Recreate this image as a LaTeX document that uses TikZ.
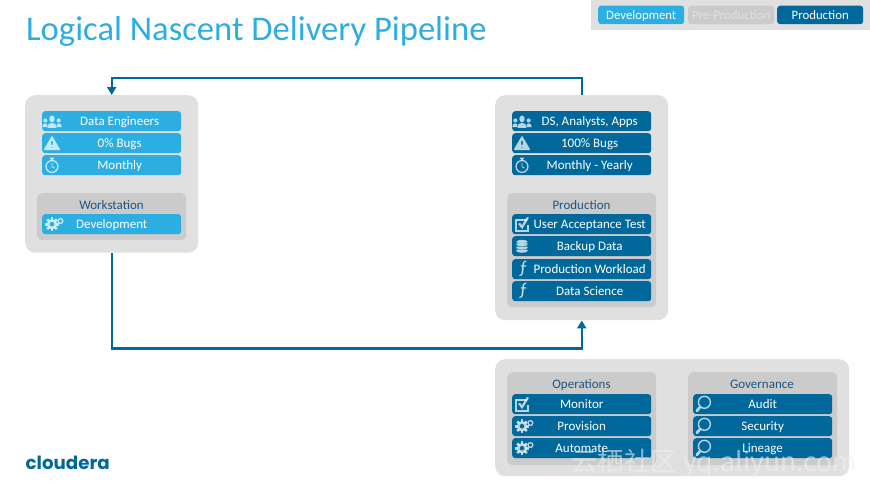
\documentclass[tikz,border=0pt]{standalone}
\usepackage{fontspec}
\setmainfont{Carlito}
\newfontfamily\logofont{Poppins}
\newfontfamily\cjkfont{Noto Sans CJK SC}
\usetikzlibrary{arrows.meta}
\definecolor{devblue}{HTML}{2CAEE2}
\definecolor{prodblue}{HTML}{00689A}
\definecolor{cardgrey}{HTML}{E0E0E0}
\definecolor{panelgrey}{HTML}{CBCBCB}
\definecolor{headblue}{HTML}{1F5580}
\definecolor{markgrey}{HTML}{EFEFEF}
\tikzset{
  card/.style={anchor=north west, fill=cardgrey, rounded corners=10pt, inner sep=0pt},
  panel/.style={anchor=north west, fill=panelgrey, rounded corners=5pt, inner sep=0pt, minimum width=149pt},
  panelhead/.style={text=headblue, text height=9pt, text depth=.4pt, font=\fontsize{13}{15}\selectfont, inner sep=0pt},
  bar/.style={anchor=north west, rounded corners=3pt, inner sep=0pt, minimum width=139pt, minimum height=20pt, text height=9pt, text depth=.4pt, text=white, font=\fontsize{13}{15}\selectfont},
  devbar/.style={bar, fill=devblue},
  prodbar/.style={bar, fill=prodblue},
  offset/.style={execute at begin node=\hspace{16pt}},
  chip/.style={anchor=north west, rounded corners=3pt, inner sep=0pt, minimum width=86pt, minimum height=18.5pt, text height=9pt, text depth=.4pt, text=white, font=\fontsize{12.8}{15}\selectfont},
  flow/.style={draw=prodblue, line width=2.2pt, -{Triangle[length=8pt,width=9pt]}},
  ico/.style={fill=white, fill opacity=.72, draw=none},
  icoline/.style={draw=white, draw opacity=.72, fill=none},
  people/.pic={
    \begin{scope}[scale=.74]
    \fill[ico] (-9,-1) circle (2.8pt) (9,-1) circle (2.8pt);
    \fill[ico] (-13,8) .. controls (-13,3) and (-10,3) .. (-9,3) .. controls (-7,3) and (-6,4) .. (-6,8) -- cycle;
    \fill[ico] (13,8) .. controls (13,3) and (10,3) .. (9,3) .. controls (7,3) and (6,4) .. (6,8) -- cycle;
    \fill[ico] (0,-3) ellipse (3.6pt and 4.6pt);
    \fill[ico] (-6,9) .. controls (-6,3) and (-3,2.5) .. (0,2.5) .. controls (3,2.5) and (6,3) .. (6,9) -- cycle;
    \end{scope}
  },
  warning/.pic={
    \begin{scope}[scale=.85]
    \fill[ico, even odd rule, rounded corners=1pt] (0,-9) -- (10,8) -- (-10,8) -- cycle
      (-1.2,-3) -- (1.2,-3) -- (.7,3) -- (-.7,3) -- cycle (-1.1,4) rectangle (1.1,6);
    \end{scope}
  },
  stopwatch/.pic={
    \begin{scope}[scale=.85]
    \draw[icoline, line width=1.3pt] (0,1.5) circle (7pt);
    \draw[icoline, line width=.9pt] (0,1.5) -- (0,-3) (0,1.5) -- (3,3.5);
    \fill[ico] (-2.5,-9) rectangle (2.5,-7.2) (-1,-7.2) rectangle (1,-5.5);
    \end{scope}
  },
  gears/.pic={
    \begin{scope}[scale=.8]
    \foreach \a in {0,45,...,315} \fill[ico, rotate=\a] (-1.7,-8.5) rectangle (1.7,-5);
    \fill[ico, even odd rule] (0,0) circle (6.5pt) (0,0) circle (3pt);
    \draw[icoline, line width=1.3pt] (10.5,-4) circle (3pt);
    \end{scope}
  },
  checkbox/.pic={
    \begin{scope}[scale=.85]
    \draw[icoline, line width=1.7pt] (6,-5) -- (-7,-5) -- (-7,8) -- (7,8) -- (7,1);
    \draw[icoline, line width=2.2pt] (-3.5,-1) -- (0,3.5) -- (7,-8);
    \end{scope}
  },
  database/.pic={
    \begin{scope}[scale=.8]
    \fill[ico] (0,-5.5) ellipse (7pt and 2.5pt);
    \foreach \y in {-2,2,6} {
      \fill[ico] (-7,\y-1.6) -- (7,\y-1.6) -- (7,\y) arc[start angle=0, end angle=180, x radius=7pt, y radius=-2.2pt] -- cycle;
    }
    \end{scope}
  },
  lens/.pic={
    \begin{scope}[scale=.95]
    \draw[icoline, line width=1.4pt] (1.5,-2) circle (6.3pt);
    \draw[icoline, line width=2.8pt, line cap=round] (-3.5,3.5) -- (-6.5,7);
    \end{scope}
  },
}
\begin{document}
\begin{tikzpicture}[x=1pt, y=-1pt]
  \useasboundingbox (0,0) rectangle (870,487);
  \node[anchor=west, inner sep=0pt, text=devblue, font=\fontsize{34.6}{38}\selectfont] (title) at (26,31) {Logical Nascent Delivery Pipeline};
  % legend, top right
  \node[anchor=north west, fill=cardgrey, inner sep=0pt, minimum width=279pt, minimum height=30pt] (legend) at (591,0) {};
  \node[chip, fill=devblue] (chipdev) at (598,5.5) {Development};
  \node[chip, fill=panelgrey, text=cardgrey] (chippre) at (688,5.5) {Pre-Production};
  \node[chip, fill=prodblue] (chipprod) at (777,5.5) {Production};
  % cards
  \node[card, minimum width=173pt, minimum height=157.5pt] (devcard) at (25,95) {};
  \node[card, minimum width=173pt, minimum height=225pt] (prodcard) at (495,95) {};
  \node[card, minimum width=354pt, minimum height=117pt] (opscard) at (495,359) {};
  % panels
  \node[panel, minimum height=47pt] (workpanel) at (37,193) {};
  \node[panel, minimum height=114pt] (prodpanel) at (507,193) {};
  \node[panel, minimum height=93pt] (opspanel) at (507,372) {};
  \node[panel, minimum height=93pt] (govpanel) at (688,372) {};
  \node[panelhead] (workhead) at (111.5,205) {Workstation};
  \node[panelhead] (prodhead) at (581.5,205) {Production};
  \node[panelhead] (opshead) at (581.5,384) {Operations};
  \node[panelhead] (govhead) at (762,384) {Governance};
  % left card
  \foreach \nm/\y/\txt/\ic in {devpeople/111/Data Engineers/people, devbugs/133/0\% Bugs/warning, devtime/155/Monthly/stopwatch} {
    \node[devbar, offset] (\nm) at (42,\y) {\txt};
    \pic at ([xshift=10pt]\nm.west) {\ic};
  }
  \node[devbar] (devwork) at (42,214) {Development};
  \pic at ([xshift=10pt]devwork.west) {gears};
  % right card
  \foreach \nm/\y/\txt/\ic in {prodpeople/111/{DS, Analysts, Apps}/people, prodbugs/133/100\% Bugs/warning, prodtime/155/Monthly - Yearly/stopwatch, produat/214/User Acceptance Test/checkbox, prodbackup/236/Backup Data/database} {
    \node[prodbar, offset] (\nm) at (512,\y) {\txt};
    \pic at ([xshift=10pt]\nm.west) {\ic};
  }
  \foreach \nm/\y/\txt in {prodload/259/Production Workload, prodsci/281/Data Science} {
    \node[prodbar, offset] (\nm) at (512,\y) {\txt};
    \node[text=white, opacity=.8, inner sep=0pt, font=\fontsize{18}{18}\selectfont] (\nm f) at ([xshift=11pt]\nm.west) {ƒ};
  }
  % bottom card
  \foreach \nm/\y/\txt/\ic in {opsmon/394/Monitor/checkbox, opsprov/416/Provision/gears, opsauto/438/Automate/gears} {
    \node[prodbar] (\nm) at (512,\y) {\txt};
    \pic at ([xshift=10pt]\nm.west) {\ic};
  }
  \foreach \nm/\y/\txt in {govaudit/394/Audit, govsec/416/Security, govline/438/Lineage} {
    \node[prodbar] (\nm) at (693,\y) {\txt};
    \pic at ([xshift=10pt]\nm.west) {lens};
  }
  % flows between the cards
  \draw[flow] (prodcard.north) -- ++(0,-17) -| (devcard.north);
  \draw[flow] (devcard.south) -- ++(0,95.5) -| (prodcard.south);
  \node[anchor=west, inner sep=0pt, text=prodblue, font=\logofont\fontsize{18.2}{22}\selectfont\bfseries] (logo) at (25.5,463) {cloudera};
  \node[anchor=west, inner sep=0pt, text=markgrey, opacity=.6, font=\fontsize{26.5}{30}\selectfont] (mark) at (571,463) {\cjkfont 云栖社区 yq.aliyun.com};
\end{tikzpicture}
\end{document}
